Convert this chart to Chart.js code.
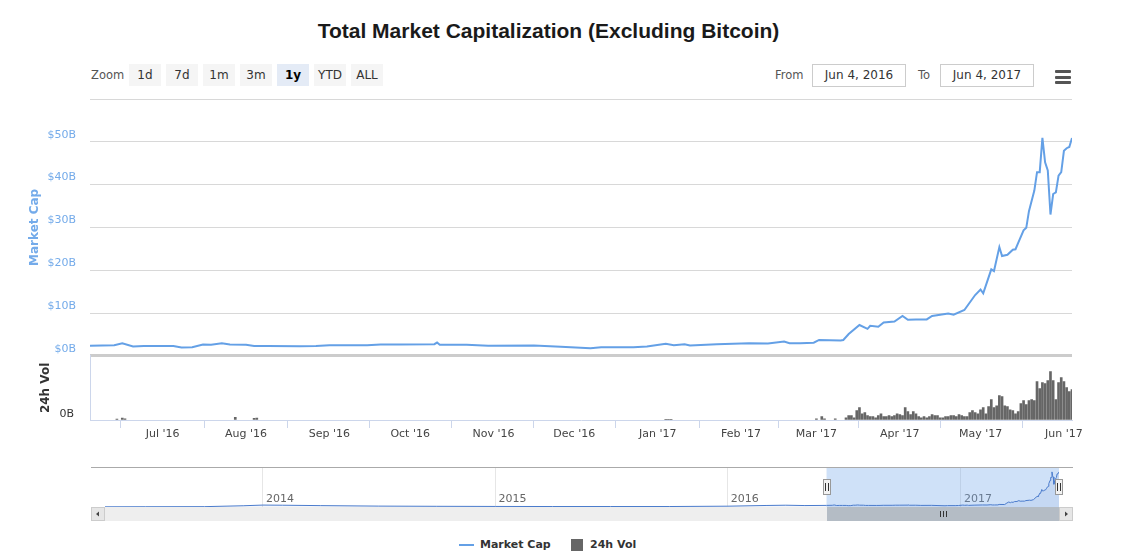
<!DOCTYPE html>
<html>
<head>
<meta charset="utf-8">
<title>Total Market Capitalization (Excluding Bitcoin)</title>
<script src="https://cdn.jsdelivr.net/npm/chart.js@4.4.1/dist/chart.umd.min.js"></script>
<style>
  html, body { margin: 0; padding: 0; background: #fff; }
  body { width: 1143px; height: 557px; position: relative; overflow: hidden; font-family: "DejaVu Sans", sans-serif; }
  #title { position: absolute; left: 0; top: 18px; width: 1097px; text-align: center; font: bold 21px "Liberation Sans", Arial, sans-serif; color: #1a1a1a; line-height: 26px; }
  .lbl { position: absolute; top: 68px; font-size: 11.5px; color: #555; line-height: 14px; }
  .btn { position: absolute; top: 64px; width: 32px; height: 22px; line-height: 22px; text-align: center; font-size: 12px; color: #333; background: #f5f5f5; }
  .btn.sel { background: #e4ebf6; font-weight: bold; color: #000; }
  .box { position: absolute; top: 64px; width: 92px; height: 21px; border: 1px solid #cccccc; line-height: 21px; text-align: center; font-size: 12px; color: #333; }
  .bar { position: absolute; left: 1055px; width: 16px; height: 3px; background: #555; border-radius: 1px; }
  #main { position: absolute; left: 0; top: 90px; width: 1143px; height: 360px; }
  #nav { position: absolute; left: 0; top: 460px; width: 1143px; height: 70px; }
  .leg { position: absolute; top: 538px; font-size: 11px; font-weight: bold; color: #333; line-height: 14px; }
</style>
</head>
<body>
<div id="title">Total Market Capitalization (Excluding Bitcoin)</div>

<div class="lbl" style="left:91px">Zoom</div>
<div class="btn" style="left:129px">1d</div>
<div class="btn" style="left:166px">7d</div>
<div class="btn" style="left:203px">1m</div>
<div class="btn" style="left:240px">3m</div>
<div class="btn sel" style="left:277px">1y</div>
<div class="btn" style="left:314px">YTD</div>
<div class="btn" style="left:351px">ALL</div>

<div class="lbl" style="left:775px">From</div>
<div class="box" style="left:812px">Jun 4, 2016</div>
<div class="lbl" style="left:918px">To</div>
<div class="box" style="left:940px">Jun 4, 2017</div>
<div class="bar" style="top:70px"></div>
<div class="bar" style="top:75.5px"></div>
<div class="bar" style="top:81px"></div>

<div id="main"><canvas id="mainCanvas"></canvas></div>
<div id="nav"><canvas id="navCanvas"></canvas></div>

<div style="position:absolute;left:459px;top:544px;width:15px;height:2px;background:#64a0e6"></div>
<div class="leg" style="left:480px">Market Cap</div>
<div style="position:absolute;left:571px;top:539px;width:12px;height:12px;background:#666"></div>
<div class="leg" style="left:590px">24h Vol</div>

<script>
// days counted from Jun 4, 2016; values in billions of USD
const capDays = [0, 9, 12, 16, 20, 25, 31, 34, 38, 42, 45, 49, 52, 58, 61, 66, 78, 84, 89, 103,
  108, 115, 128, 129, 130, 140, 148, 165, 175, 186, 190, 202, 207, 214, 217, 221, 223, 233, 245, 252,
  258, 260, 264, 269, 271, 279, 280, 282, 286, 289, 290, 293, 295, 299, 302, 304, 307, 311, 313, 319,
  321, 325, 329, 331, 332, 335, 336, 338, 339, 341, 343, 344, 345, 347, 348, 349, 351, 352, 353, 354,
  355, 356, 357, 358, 359, 360, 361, 362, 363, 364, 365];
const capValues = [2.33, 2.48, 2.95, 2.16, 2.3, 2.3, 2.28, 1.93, 2.0, 2.63, 2.6, 2.95, 2.63, 2.6, 2.3, 2.3, 2.25, 2.3, 2.48, 2.48,
  2.63, 2.65, 2.72, 3.1, 2.56, 2.6, 2.33, 2.4, 2.09, 1.78, 2.0, 2.0, 2.16, 2.8, 2.48, 2.72, 2.4, 2.72, 2.95, 2.88,
  3.33, 2.95, 2.95, 3.05, 3.7, 3.6, 3.7, 5.1, 7.2, 6.3, 7.0, 6.8, 7.8, 8.0, 9.3, 8.4, 8.5, 8.5, 9.3, 9.9,
  9.6, 10.7, 14.2, 15.5, 14.6, 20.2, 19.8, 25.4, 23.3, 23.6, 24.8, 24.9, 26.4, 29.3, 29.9, 33.8, 38.6, 42.9, 42.9, 50.9,
  45.2, 43.3, 33.0, 37.8, 38.2, 42.1, 42.9, 47.9, 48.5, 48.8, 50.9];

const volEarlyDays = [10, 12, 13, 54, 61, 62, 214, 215, 216, 270, 272, 273, 277];
const volEarlyValues = [0.05, 0.12, 0.08, 0.16, 0.1, 0.12, 0.04, 0.04, 0.04, 0.08, 0.21, 0.08, 0.08];
const volDailyStart = 281;
const volDaily = [0.14, 0.27, 0.27, 0.14, 0.58, 0.77, 0.39, 0.46, 0.27, 0.21, 0.21, 0.14, 0.27, 0.39, 0.21, 0.21, 0.27, 0.21,
  0.27, 0.39, 0.33, 0.27, 0.77, 0.52, 0.33, 0.52, 0.39, 0.21, 0.14, 0.21, 0.14, 0.21, 0.33, 0.27, 0.27,
  0.13, 0.13, 0.21, 0.21, 0.27, 0.27, 0.21, 0.33, 0.27, 0.21, 0.21, 0.46, 0.58, 0.46, 0.39, 0.64, 0.77, 0.39,
  0.83, 1.27, 0.77, 0.89, 1.52, 1.46, 0.89, 0.83, 0.64, 0.58, 0.39, 0.52, 1.02, 1.21, 0.96, 1.21, 1.27, 1.21,
  2.39, 1.96, 2.33, 2.27, 2.46, 3.02, 2.46, 1.27, 2.33, 2.64, 2.39, 2.02, 1.77, 1.89];

// navigator history before the selected year
const navHistDays = [-1133, -1069, -977, -916, -885, -854, -795, -704, -612, -520, -430, -339, -247, -155, -95, -64, -34];
const navHistValues = [0.3, 0.4, 0.5, 1.8, 2.8, 2.6, 2.0, 1.3, 1.0, 0.8, 0.7, 0.7, 0.7, 1.2, 2.2, 2.6, 2.1];

const monthDays = [27, 58, 89, 119, 150, 180, 211, 242, 270, 301, 331, 362];
const monthLabels = ["Jul '16", "Aug '16", "Sep '16", "Oct '16", "Nov '16", "Dec '16",
  "Jan '17", "Feb '17", "Mar '17", "Apr '17", "May '17", "Jun '17"];
const yearDays = [-885, -520, -155, 211];
const yearLabels = ['2014', '2015', '2016', '2017'];
const capTicks = [0, 10, 20, 30, 40, 50, 60];

const rangeStart = 0;
const rangeEnd = 365;

const capColor = '#64a0e6';
const capLabelColor = '#74abea';
const volColor = '#666666';

Chart.defaults.font.family = "'DejaVu Sans', sans-serif";

const capPoints = capDays.map((d, i) => ({ x: d, y: capValues[i] }));
const volPoints = volEarlyDays.map((d, i) => ({ x: d, y: volEarlyValues[i] }))
  .concat(volDaily.map((v, i) => ({ x: volDailyStart + i, y: v })));

new Chart(document.getElementById('mainCanvas'), {
  type: 'line',
  data: {
    datasets: [
      {
        type: 'line', label: 'Market Cap', data: capPoints, yAxisID: 'yCap',
        borderColor: capColor, borderWidth: 2, pointRadius: 0, tension: 0, fill: false, order: 0
      },
      {
        type: 'bar', label: '24h Vol', data: volPoints, yAxisID: 'yVol',
        backgroundColor: volColor, barThickness: 2, order: 1
      }
    ]
  },
  options: {
    responsive: true,
    maintainAspectRatio: false,
    animation: false,
    layout: { padding: { top: 9, right: 71, left: 0, bottom: 0 } },
    plugins: { legend: { display: false }, tooltip: { enabled: false } },
    scales: {
      x: {
        type: 'linear', min: rangeStart, max: rangeEnd, offset: false,
        afterBuildTicks: s => { s.ticks = monthDays.map(v => ({ value: v })); },
        afterFit: s => { s.height = 30; },
        grid: { drawOnChartArea: false, color: '#ccd6eb', tickLength: 8 },
        border: { color: '#ccd6eb' },
        ticks: {
          autoSkip: false, maxRotation: 0, padding: 0, color: '#444', font: { size: 11 },
          callback: (v, i) => monthLabels[i]
        }
      },
      yCap: {
        type: 'linear', position: 'left', stack: 'panes', stackWeight: 4, weight: 1,
        min: 0, max: 60,
        afterBuildTicks: s => { s.ticks = capTicks.map(v => ({ value: v })); },
        afterFit: s => { s.width = 90; },
        grid: {
          drawTicks: true, tickLength: 14, tickColor: 'rgba(0,0,0,0)',
          color: c => (c.tick && c.tick.value === 0 ? '#cccccc' : '#d8d8d8'),
          lineWidth: c => (c.tick && c.tick.value === 0 ? 3 : 1)
        },
        border: { display: false },
        ticks: {
          padding: 0, labelOffset: -7, color: capLabelColor, font: { size: 11 },
          callback: v => (v === 60 ? '' : '$' + v + 'B')
        },
        title: {
          display: true, text: 'Market Cap', color: capLabelColor,
          font: { size: 12, weight: 'bold' }, padding: { top: 28, bottom: 0 }
        }
      },
      yVol: {
        type: 'linear', position: 'left', stack: 'panes', stackWeight: 1, weight: 0,
        min: 0, max: 4,
        afterBuildTicks: s => { s.ticks = [{ value: 0 }]; },
        afterFit: s => { s.width = 90; },
        grid: {
          display: true, drawOnChartArea: false, drawTicks: true, tickLength: 16,
          color: 'rgba(0,0,0,0)', tickColor: 'rgba(0,0,0,0)'
        },
        border: { display: true, color: '#ccd6eb' },
        ticks: {
          padding: 0, labelOffset: -6, color: '#333', font: { size: 11 },
          callback: v => (v === 0 ? '0B' : '')
        },
        title: {
          display: true, text: '24h Vol', color: '#333',
          font: { size: 12, weight: 'bold' }, padding: { top: 39, bottom: 0 }
        }
      }
    }
  }
});

const navigatorPlugin = {
  id: 'navigator',
  beforeDatasetsDraw(chart) {
    const { ctx, chartArea: a, scales: { x } } = chart;
    const x0 = x.getPixelForValue(rangeStart);
    const x1 = x.getPixelForValue(rangeEnd);
    ctx.save();
    ctx.fillStyle = 'rgba(110,165,235,0.33)';
    ctx.fillRect(x0, a.top, x1 - x0, a.bottom - a.top);
    ctx.restore();
  },
  afterDatasetsDraw(chart) {
    const { ctx, chartArea: a, scales: { x } } = chart;
    const x0 = Math.round(x.getPixelForValue(rangeStart));
    const x1 = Math.round(x.getPixelForValue(rangeEnd));
    const btn = 14;
    const sb = a.bottom;
    const l = a.left - btn;
    const r = a.right + btn;
    ctx.save();
    // scrollbar track
    ctx.fillStyle = '#eeeeee';
    ctx.fillRect(l, sb, r - l, btn);
    // thumb
    ctx.fillStyle = '#b4bcc5';
    ctx.fillRect(x0, sb, x1 - x0, btn);
    ctx.strokeStyle = '#333';
    ctx.lineWidth = 1;
    const mid = Math.round((x0 + x1) / 2) + 0.5;
    ctx.beginPath();
    for (const dx of [-3, 0, 3]) {
      ctx.moveTo(mid + dx, sb + 4);
      ctx.lineTo(mid + dx, sb + 10);
    }
    ctx.stroke();
    // buttons
    for (const bx of [l, a.right]) {
      ctx.fillStyle = '#e6e6e6';
      ctx.fillRect(bx, sb, btn, btn);
      ctx.strokeStyle = '#cccccc';
      ctx.strokeRect(bx + 0.5, sb + 0.5, btn - 1, btn - 1);
    }
    ctx.fillStyle = '#444';
    ctx.beginPath();
    ctx.moveTo(l + 5, sb + 7); ctx.lineTo(l + 8, sb + 4.5); ctx.lineTo(l + 8, sb + 9.5); ctx.closePath();
    ctx.moveTo(a.right + 9, sb + 7); ctx.lineTo(a.right + 6, sb + 4.5); ctx.lineTo(a.right + 6, sb + 9.5); ctx.closePath();
    ctx.fill();
    // outline
    ctx.strokeStyle = '#aaaaaa';
    ctx.beginPath();
    ctx.moveTo(l, a.top + 0.5);
    ctx.lineTo(r, a.top + 0.5);
    ctx.stroke();
    // handles
    const hy = Math.round((a.top + a.bottom) / 2);
    for (const hx of [x0, x1]) {
      ctx.fillStyle = '#f2f2f2';
      ctx.fillRect(hx - 4, hy - 8, 8, 16);
      ctx.strokeStyle = '#999';
      ctx.strokeRect(hx - 3.5, hy - 7.5, 7, 15);
      ctx.strokeStyle = '#333';
      ctx.beginPath();
      ctx.moveTo(hx - 1.5, hy - 4); ctx.lineTo(hx - 1.5, hy + 4);
      ctx.moveTo(hx + 1.5, hy - 4); ctx.lineTo(hx + 1.5, hy + 4);
      ctx.stroke();
    }
    ctx.restore();
  }
};

const navDays = navHistDays.concat(capDays);
const navValues = navHistValues.concat(capValues);

new Chart(document.getElementById('navCanvas'), {
  type: 'line',
  data: {
    datasets: [{
      data: navDays.map((d, i) => ({ x: d, y: navValues[i] })),
      borderColor: '#4a7bcc', borderWidth: 1, pointRadius: 0, tension: 0,
      fill: 'origin', backgroundColor: 'rgba(51,92,173,0.06)'
    }]
  },
  options: {
    responsive: true,
    maintainAspectRatio: false,
    animation: false,
    layout: { padding: { left: 105, right: 84, top: 7, bottom: 23 } },
    plugins: { legend: { display: false }, tooltip: { enabled: false } },
    scales: {
      x: {
        type: 'linear', min: navHistDays[0], max: rangeEnd,
        afterBuildTicks: s => { s.ticks = yearDays.map(v => ({ value: v })); },
        afterFit: s => { s.height = 0; },
        grid: { color: '#e6e6e6', drawTicks: false },
        border: { display: false },
        ticks: {
          mirror: true, align: 'start', padding: 1, labelOffset: 3, autoSkip: false, maxRotation: 0,
          color: '#666', font: { size: 11 }, callback: (v, i) => yearLabels[i]
        }
      },
      y: { display: false, min: 0, max: 58 }
    }
  },
  plugins: [navigatorPlugin]
});
</script>
</body>
</html>
